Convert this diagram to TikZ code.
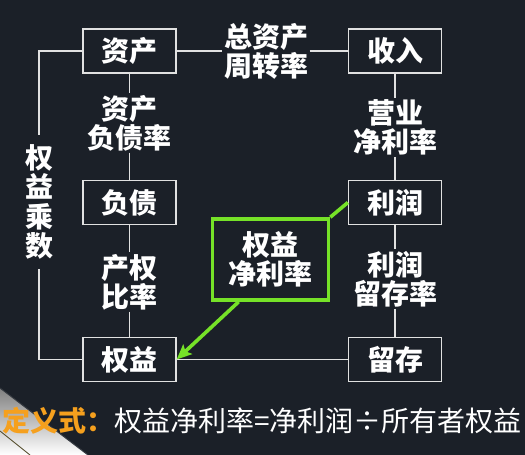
\documentclass[tikz,border=0pt]{standalone}
\usepackage{fontspec}
\setmainfont{Noto Sans CJK SC}
\usetikzlibrary{arrows.meta,calc}
\definecolor{bg}{RGB}{27,32,40}
\definecolor{frame}{RGB}{225,225,225}
\definecolor{lime}{RGB}{118,226,40}
\definecolor{amber}{RGB}{245,160,30}
\definecolor{shade}{RGB}{22,25,31}
\definecolor{streak}{RGB}{52,57,64}
\definecolor{gold}{RGB}{78,70,36}
\begin{document}
\begin{tikzpicture}[x=1pt,y=-1pt,
  box/.style={draw=frame,line width=1.3pt,fill=bg,minimum width=93pt,minimum height=44pt,
    inner sep=0pt,text=white,font=\fontsize{28}{29}\selectfont\bfseries},
  lbl/.style={text=white,align=center,inner sep=1.5pt,font=\fontsize{28}{29}\selectfont\bfseries},
  link/.style={draw=frame,line width=1.3pt},
  hot/.style={draw=lime,line width=3.6pt}]
% background and corner decoration
\fill[bg] (0,0) rectangle (525,455);
\useasboundingbox (0,0) rectangle (525,455);
\fill[shade] (0,388) -- (88,455) -- (0,455) -- cycle;
\draw[streak,line width=1pt] (0,388) -- (88,455);
\draw[gold,line width=0.8pt] (0,431) -- (30,455);

% the six ratio boxes
\node[box] (zc) at (129.5,51)    {资产};
\node[box] (sr) at (395,51)      {收入};
\node[box] (fz) at (129.5,202.5) {负债};
\node[box] (lr) at (395,202.5)   {利润};
\node[box] (qy) at (129.5,359.5) {权益};
\node[box] (lc) at (395,359.5)   {留存};

% ratio labels on the links
\node[lbl] (l1) at (266,51)    {总资产\\周转率};
\node[lbl] (l2) at (129.5,123) {资产\\负债率};
\node[lbl] (l3) at (395,127.5) {营业\\净利率};
\node[lbl] (l4) at (129.5,282) {产权\\比率};
\node[lbl] (l5) at (395,279)   {利润\\留存率};
\node[text=white,align=center,inner xsep=0pt,inner ysep=9pt,
  font=\fontsize{28}{29.5}\selectfont\bfseries]
  (lq) at (39,202) {权\\益\\乘\\数};

% links
\draw[link] (zc.east) -- (l1.west);
\draw[link] (l1.east) -- (sr.west);
\draw[link] (zc.south) -- (l2.north);
\draw[link] (l2.south) -- (fz.north);
\draw[link] (fz.south) -- (l4.north);
\draw[link] (l4.south) -- (qy.north);
\draw[link] (sr.south) -- (l3.north);
\draw[link] (l3.south) -- (lr.north);
\draw[link] (lr.south) -- (l5.north);
\draw[link] (l5.south) -- (lc.north);
\draw[link] (qy.east) -- (lc.west);
\draw[link] (zc.west) -| (lq.north);
\draw[link] (lq.south) |- (qy.west);

% return on equity, highlighted
\node[box,draw=lime,line width=3.6pt,minimum width=116pt,minimum height=81pt,align=center] (roe)
  at (270.5,259.5) {权益\\净利率};
\draw[hot] (lr.west) -- (roe.north east);
\draw[hot,-{Stealth[length=15pt,width=13pt,inset=3pt]}] (roe.233) -- (qy.east);

% defining formula
\node[anchor=base west,inner sep=0pt,text=white,font=\fontsize{28}{30}\selectfont] (def) at (2,431)
  {{\color{amber}\bfseries 定义式：}权益净利率=净利润÷所有者权益};
\end{tikzpicture}
\end{document}
